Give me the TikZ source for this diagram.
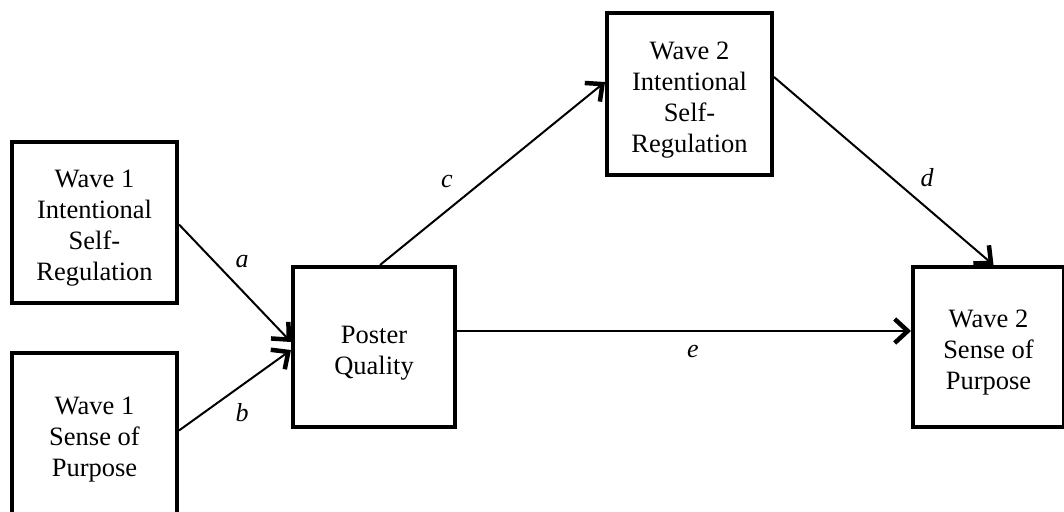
\documentclass[tikz,border=0pt]{standalone}
\usepackage{fontspec}
\setmainfont{Liberation Serif}
\usetikzlibrary{arrows.meta}
\begin{document}
\begin{tikzpicture}[x=1pt,y=1pt,
  box/.style={draw=black, line width=4pt, fill=white, inner sep=0pt},
  txt/.style={align=center, inner sep=0pt, yshift=-6pt, font=\fontsize{26.5}{31}\selectfont},
  conn/.style={line width=2pt, -{Straight Barb[length=13pt,width=24pt,line width=4.5pt]}},
  lab/.style={font=\fontsize{26}{31}\selectfont\itshape, inner sep=0pt}]
\useasboundingbox (0,0) rectangle (1064,511);
\fill[white] (0,0) rectangle (1064,511);
\node[box, minimum width=165pt, minimum height=161pt,
  label={[txt]center:{Wave 1\\Intentional\\Self-\\Regulation}}] (w1isr) at (94.5,288.5) {};
\node[box, minimum width=165pt, minimum height=161pt,
  label={[txt]center:{Wave 1\\Sense of\\Purpose}}] (w1sop) at (94.5,77.5) {};
\node[box, minimum width=162pt, minimum height=160pt,
  label={[txt]center:{Poster\\Quality}}] (pq) at (374,164) {};
\node[box, minimum width=165pt, minimum height=162pt,
  label={[txt]center:{Wave 2\\Intentional\\Self-\\Regulation}}] (w2isr) at (689.5,417) {};
\node[box, minimum width=151pt, minimum height=160pt,
  label={[txt]center:{Wave 2\\Sense of\\Purpose}}] (w2sop) at (988.5,164) {};
\draw[conn] ([yshift=-2pt]w1isr.east) -- ([yshift=5pt]pq.west);
\draw[conn] ([yshift=3pt]w1sop.east) -- ([yshift=-3pt]pq.west);
\draw[conn] ([xshift=6pt]pq.north) -- ([yshift=12pt]w2isr.west);
\draw[conn] ([yshift=17pt]w2isr.east) -- ([xshift=5pt]w2sop.north);
\draw[conn] ([yshift=16pt]pq.east) -- ([yshift=16pt]w2sop.west);
\node[lab] (la) at (242,249) {a};
\node[lab] (lb) at (242,98) {b};
\node[lab] (lc) at (447,329) {c};
\node[lab] (ld) at (927,333) {d};
\node[lab] (le) at (693,159) {e};
\end{tikzpicture}
\end{document}
